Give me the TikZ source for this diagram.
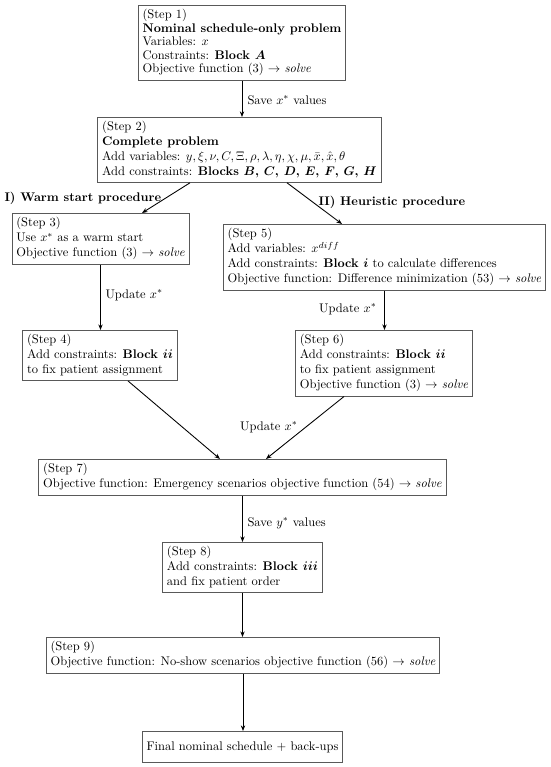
\documentclass[tikz,border=0pt]{standalone}
\usepackage{amsmath}
\usetikzlibrary{arrows.meta,calc}
\begin{document}
\begin{tikzpicture}[x=0.8pt,y=-0.8pt,
  box/.style={draw=black!65,line width=0.6pt,align=left,anchor=north,inner xsep=3.5pt,inner ysep=3.3pt},
  arr/.style={draw=black,line width=0.7pt,-{Stealth[length=4.5pt,width=3.5pt]}},
  lbl/.style={inner sep=1pt},
  plbl/.style={font=\bfseries,inner sep=1pt}]
\useasboundingbox (0,0) rectangle (550,767);

\node[box] (s1) at (242,5) {(Step 1)\\[-1.2pt]
  \textbf{Nominal schedule-only problem}\\[-1.2pt]
  Variables: $x$\\[-1.2pt]
  Constraints: \textbf{Block $\boldsymbol{A}$}\\[-1.2pt]
  Objective function (3) $\rightarrow$ \textit{solve}};

\node[box] (s2) at (239.5,117) {(Step 2)\\
  \textbf{Complete problem}\\
  Add variables: $y,\xi,\nu,C,\Xi,\rho,\lambda,\eta,\chi,\mu,\bar{x},\hat{x},\theta$\\
  Add constraints: \textbf{Blocks $\boldsymbol{B}$, $\boldsymbol{C}$, $\boldsymbol{D}$, $\boldsymbol{E}$, $\boldsymbol{F}$, $\boldsymbol{G}$, $\boldsymbol{H}$}};

\node[box] (s3) at (100.5,213) {(Step 3)\\
  Use $x^*$ as a warm start\\
  Objective function (3) $\rightarrow$ \textit{solve}};

\node[box] (s4) at (100,330) {(Step 4)\\
  Add constraints: \textbf{Block $\boldsymbol{ii}$}\\
  to fix patient assignment};

\node[box] (s5) at (384.5,224) {(Step 5)\\
  Add variables: $x^{diff}$\\
  Add constraints: \textbf{Block $\boldsymbol{i}$} to calculate differences\\
  Objective function: Difference minimization (53) $\rightarrow$ \textit{solve}};

\node[box] (s6) at (384,330) {(Step 6)\\
  Add constraints: \textbf{Block $\boldsymbol{ii}$}\\
  to fix patient assignment\\
  Objective function (3) $\rightarrow$ \textit{solve}};

\node[box] (s7) at (242.5,459) {(Step 7)\\
  Objective function: Emergency scenarios objective function (54) $\rightarrow$ \textit{solve}};

\node[box] (s8) at (242.5,542) {(Step 8)\\
  Add constraints: \textbf{Block $\boldsymbol{iii}$}\\
  and fix patient order};

\node[box] (s9) at (243,637) {(Step 9)\\
  Objective function: No-show scenarios objective function (56) $\rightarrow$ \textit{solve}};

\node[box,inner ysep=8pt] (fin) at (242.5,731) {Final nominal schedule $+$ back-ups};

% procedure labels
\node[plbl,anchor=west] (p1) at (3,198) {I) Warm start procedure};
\node[plbl,anchor=west] (p2) at (317,202) {II) Heuristic procedure};

% connectors
\draw[arr] (s1.south) -- (s1.south |- s2.north);
\draw[arr] ($(s2.south)+(-49.5,0)$) -- ($(s3.north)+(41.5,0)$);
\draw[arr] ($(s2.south)+(47.5,0)$) -- ($(s5.north)+(-42.5,0)$);
\draw[arr] (s3.south) -- (s3.south |- s4.north);
\draw[arr] (s5.south) -- (s5.south |- s6.north);
\draw[arr] ($(s4.south)+(28,0)$) -- ($(s7.north)+(-22.5,0)$);
\draw[arr] ($(s6.south)+(-40,0)$) -- ($(s7.north)+(23.5,0)$);
\draw[arr] (s7.south) -- (s7.south |- s8.north);
\draw[arr] (s8.south) -- (s8.south |- s9.north);
\draw[arr] (s9.south) -- (s9.south |- fin.north);

% connector labels
\node[lbl,anchor=west] (l1) at (246,100) {Save $x^*$ values};
\node[lbl,anchor=west] (l2) at (104,295) {Update $x^*$};
\node[lbl,anchor=east] (l3) at (378,309) {Update $x^*$};
\node[lbl,anchor=east] (l4) at (299,427) {Update $x^*$};
\node[lbl,anchor=west] (l5) at (246,523) {Save $y^*$ values};
\end{tikzpicture}
\end{document}
